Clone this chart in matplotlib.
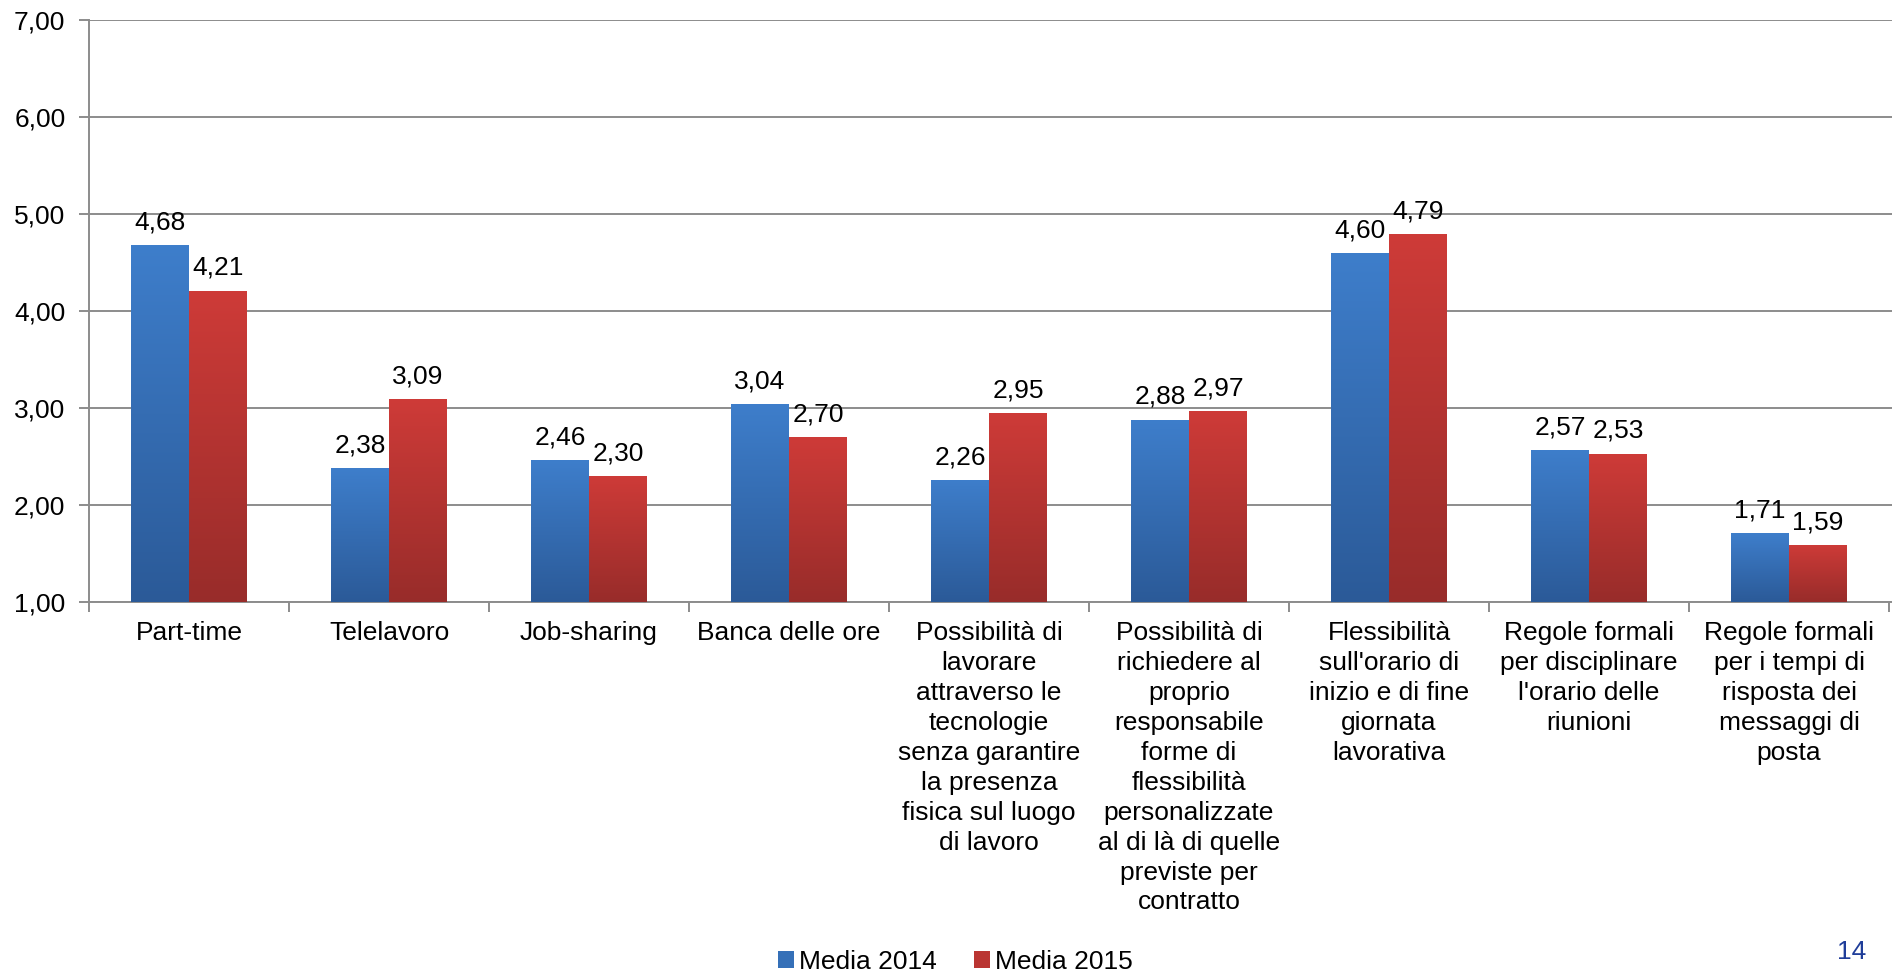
import numpy as np
import matplotlib
matplotlib.use("Agg")
import matplotlib.pyplot as plt
from matplotlib.colors import LinearSegmentedColormap
from matplotlib.patches import Patch

plt.rcParams['font.family'] = ['Liberation Sans', 'DejaVu Sans']

categories = [
    "Part-time",
    "Telelavoro",
    "Job-sharing",
    "Banca delle ore",
    "Possibilità di\nlavorare\nattraverso le\ntecnologie\nsenza garantire\nla presenza\nfisica sul luogo\ndi lavoro",
    "Possibilità di\nrichiedere al\nproprio\nresponsabile\nforme di\nflessibilità\npersonalizzate\nal di là di quelle\npreviste per\ncontratto",
    "Flessibilità\nsull'orario di\ninizio e di fine\ngiornata\nlavorativa",
    "Regole formali\nper disciplinare\nl'orario delle\nriunioni",
    "Regole formali\nper i tempi di\nrisposta dei\nmessaggi di\nposta",
]
media_2014 = [4.68, 2.38, 2.46, 3.04, 2.26, 2.88, 4.60, 2.57, 1.71]
media_2015 = [4.21, 3.09, 2.30, 2.70, 2.95, 2.97, 4.79, 2.53, 1.59]
yticks = [1, 2, 3, 4, 5, 6, 7]

blue_top, blue_bot = "#3E7ECB", "#2B5A98"
red_top, red_bot = "#CE3B38", "#982C2A"

fig = plt.figure(figsize=(18.92, 9.75), dpi=100)
ax = fig.add_axes([89 / 1892, 1 - 602 / 975, 1 - 89 / 1892, (602 - 20) / 975])

x = np.arange(len(categories))
w = 0.29
base = 1.0

def gradient_bars(xs, vals, top, bot):
    bars = ax.bar(xs, np.array(vals) - base, w, bottom=base, color="none", zorder=3)
    cmap = LinearSegmentedColormap.from_list("g", [bot, top])
    grad = np.linspace(0, 1, 256).reshape(-1, 1)
    for b in bars:
        x0, y0 = b.get_x(), b.get_y()
        im = ax.imshow(grad, cmap=cmap, origin="lower", aspect="auto",
                       extent=[x0, x0 + b.get_width(), y0, y0 + b.get_height()],
                       zorder=3)
        im.set_clip_path(b)
    return bars

b1 = gradient_bars(x - w / 2, media_2014, blue_top, blue_bot)
b2 = gradient_bars(x + w / 2, media_2015, red_top, red_bot)

for xs, vals in [(x - w / 2, media_2014), (x + w / 2, media_2015)]:
    for xi, v in zip(xs, vals):
        ax.text(xi, v + 0.11, f"{v:.2f}".replace(".", ","), ha="center", va="bottom",
                fontsize=19, color="black", zorder=4)

ax.set_xlim(-0.5, len(categories) - 0.5 + 0.015)
ax.set_ylim(1, 7)
ax.set_yticks(yticks)
ax.set_yticklabels([f"{t:.2f}".replace(".", ",") for t in yticks], fontsize=19)
ax.yaxis.grid(True, color="#8C8C8C", linewidth=1.4, zorder=0)
ax.set_axisbelow(True)

ax.set_xticks(np.arange(len(categories) + 1) - 0.5)
ax.set_xticklabels([])
ax.set_xticks(x, minor=True)
ax.set_xticklabels(categories, minor=True, fontsize=19, va="top", linespacing=1.31)
ax.tick_params(axis="x", which="minor", length=0, pad=14)
ax.tick_params(axis="x", which="major", length=7, width=1.4, color="#8C8C8C")
ax.tick_params(axis="y", length=7, width=1.4, color="#8C8C8C", pad=10)

for s in ["top", "right"]:
    ax.spines[s].set_visible(False)
for s in ["left", "bottom"]:
    ax.spines[s].set_color("#8C8C8C")
    ax.spines[s].set_linewidth(1.4)

handles = [Patch(facecolor="#3570B8", label="Media 2014"),
           Patch(facecolor="#BA3532", label="Media 2015")]
fig.legend(handles=handles, loc="center", bbox_to_anchor=(0.505, 1 - 962 / 975), ncol=2,
           frameon=False, fontsize=19, handlelength=0.6, handleheight=0.6,
           handletextpad=0.2, columnspacing=1.4)

fig.text(1852 / 1892, 1 - 952 / 975, "14", ha="center", va="center", fontsize=19,
         color="#1F3D99")

fig.savefig("out.png", dpi=100)
